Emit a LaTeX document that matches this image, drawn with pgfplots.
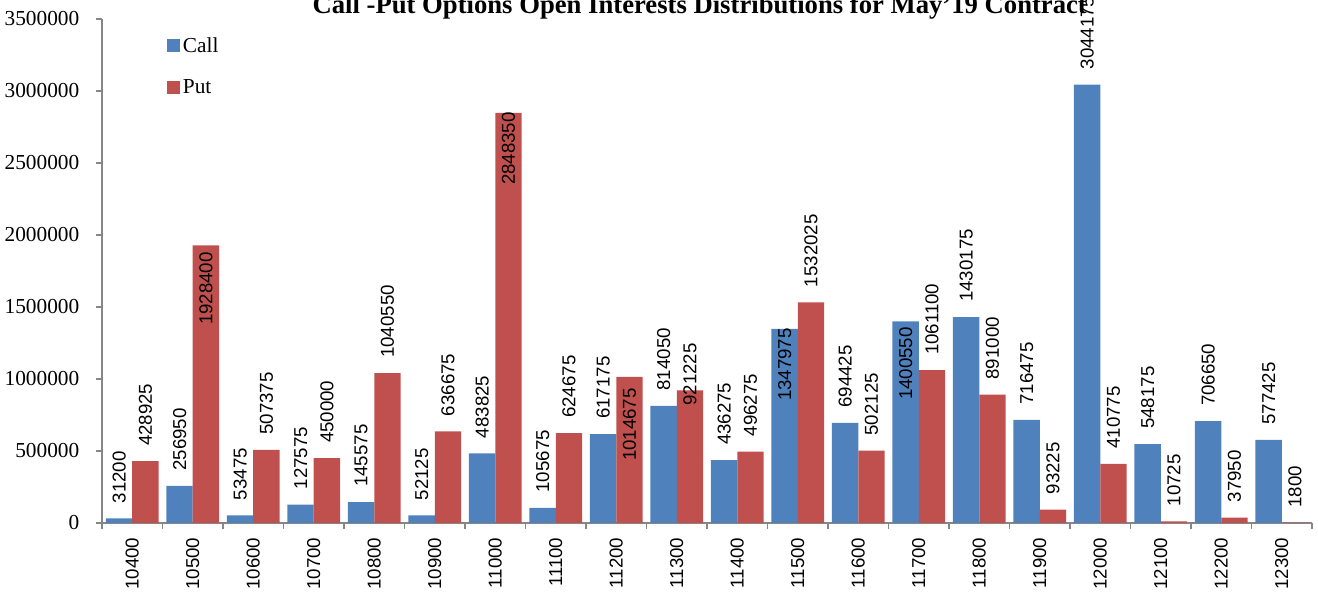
\documentclass[border=0pt]{standalone}
\usepackage{fontspec}
\setmainfont{Liberation Serif}
\newfontfamily\labfont{Liberation Sans}
\usepackage{pgfplots}
\usepackage{pgfplotstable}
\pgfplotsset{compat=1.18}
\definecolor{callblue}{HTML}{4F81BD}
\definecolor{putred}{HTML}{C0504D}
\definecolor{axgray}{HTML}{868686}
\tikzset{labsty/.style={font=\labfont\fontsize{14}{16}\selectfont, text=black, inner sep=0pt}}
\pgfplotsset{sqlegend/.style={legend image code/.code={\fill[##1,draw=none] (0pt,-4.875pt) rectangle (9.75pt,4.875pt);}}}

% bar values; labels drawn above the bar (empty = drawn inside, see below)
\pgfplotstableread{
x call clab put plab
0 31200 31200 428925 428925
1 256950 256950 1928400 {}
2 53475 53475 507375 507375
3 127575 127575 450000 450000
4 145575 145575 1040550 1040550
5 52125 52125 636675 636675
6 483825 483825 2848350 {}
7 105675 105675 624675 624675
8 617175 617175 1014675 {}
9 814050 814050 921225 {}
10 436275 436275 496275 496275
11 1347975 {} 1532025 1532025
12 694425 694425 502125 502125
13 1400550 {} 1061100 1061100
14 1430175 1430175 891000 891000
15 716475 716475 93225 93225
16 3044175 3044175 410775 410775
17 548175 548175 10725 10725
18 706650 706650 37950 37950
19 577425 577425 1800 1800
}\datatable

% labels set inside the bars: x position, y of the label's upper end
\pgfplotstableread{
lx ly lab
10.783 1354200 1347975
12.783 1361100 1400550
}\callinside
\pgfplotstableread{
lx ly lab
1.217 1881900 1928400
6.217 2854200 2848350
8.217 937500 1014675
9.217 1250000 921225
}\putinside

\begin{document}
\begin{tikzpicture}
\begin{axis}[
  name=ax, scale only axis, width=907.5pt, height=378pt,
  xmin=-0.5, xmax=19.5, ymin=0, ymax=3500000,
  xtick={0,...,19},
  xticklabels={10400,10500,10600,10700,10800,10900,11000,11100,11200,11300,11400,11500,11600,11700,11800,11900,12000,12100,12200,12300},
  minor xtick={-0.5,0.5,...,19.5},
  ytick={0,500000,...,3500000},
  scaled y ticks=false,
  axis x line*=bottom, axis y line*=left,
  axis line style={-, draw=axgray, line width=1pt},
  tick align=outside, major tick length=4.5pt, minor tick length=4.5pt,
  every major x tick/.append style={draw=none},
  every minor x tick/.append style={draw=axgray, line width=1pt},
  every major y tick/.append style={draw=axgray, line width=1pt},
  /pgf/number format/assume math mode=true,
  yticklabel style={font=\fontsize{16}{18}\selectfont, xshift=-9pt, /pgf/number format/fixed, /pgf/number format/1000 sep={}},
  xticklabel style={yshift=-3pt, rotate=90, anchor=east, font=\labfont\fontsize{14}{16}\selectfont},
  clip=false,
  title={Call -Put Options Open Interests Distributions for May'19 Contract},
  title style={at={(0.494,1)}, anchor=base, yshift=-2.25pt, font=\fontsize{20}{22}\selectfont\bfseries},
  legend style={draw=none, fill=none, at={(0.0537,0.969)}, anchor=north west, inner sep=0pt, row sep=15pt, font=\fontsize{16}{18}\selectfont, cells={anchor=west}},
]
\addplot[ybar, bar width=19.7pt, bar shift=-9.85pt, fill=callblue, draw=none, sqlegend]
  table[x=x, y=call] {\datatable};
\addlegendentry{Call}
\addplot[ybar, bar width=19.7pt, bar shift=9.85pt, fill=putred, draw=none, sqlegend]
  table[x=x, y=put] {\datatable};
\addlegendentry{Put}
% labels above the bars
\addplot[forget plot, draw=none, mark=none, point meta=explicit symbolic, nodes near coords,
  every node near coord/.append style={labsty, yshift=11.25pt, rotate=90, anchor=west}
] table[x expr=\thisrow{x}-0.217, y=call, meta=clab] {\datatable};
\addplot[forget plot, draw=none, mark=none, point meta=explicit symbolic, nodes near coords,
  every node near coord/.append style={labsty, yshift=11.25pt, rotate=90, anchor=west}
] table[x expr=\thisrow{x}+0.217, y=put, meta=plab] {\datatable};
% labels inside the bars
\addplot[forget plot, draw=none, mark=none, point meta=explicit symbolic, nodes near coords,
  every node near coord/.append style={labsty, rotate=90, anchor=east}
] table[x=lx, y=ly, meta=lab] {\callinside};
\addplot[forget plot, draw=none, mark=none, point meta=explicit symbolic, nodes near coords,
  every node near coord/.append style={labsty, rotate=90, anchor=east}
] table[x=lx, y=ly, meta=lab] {\putinside};
\end{axis}
\pgfresetboundingbox
\path ([xshift=-76.5pt,yshift=-52.5pt]ax.south west) rectangle ([xshift=4.5pt,yshift=14.25pt]ax.north east);
\end{tikzpicture}
\end{document}
